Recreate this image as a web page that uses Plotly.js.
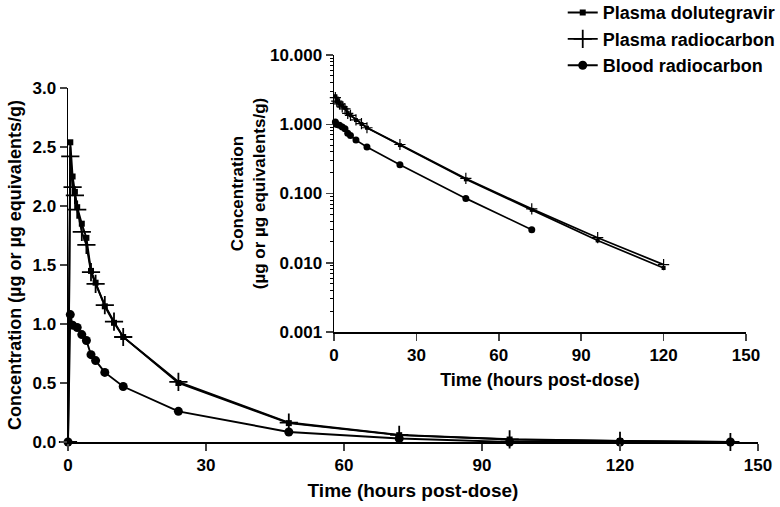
<!DOCTYPE html>
<html>
<head>
<meta charset="utf-8">
<script src="https://cdn.plot.ly/plotly-3.0.1.min.js"></script>
<style>html,body{margin:0;padding:0;background:#fff;}#chart{width:780px;height:507px;}</style>
</head>
<body>
<div id="chart"></div>
<script>
// Time points (hours post-dose)
var timePlasma = [0, 0.5, 1, 1.5, 2, 3, 4, 5, 6, 8, 10, 12, 24, 48, 72, 96, 120, 144];
var timeBlood  = [0, 0.5, 1, 2, 3, 4, 5, 6, 8, 12, 24, 48, 72, 96, 120, 144];
// Concentrations (µg or µg equivalents/g); 0 = below limit (not shown on log inset)
var plasmaDTG  = [0, 2.54, 2.25, 2.12, 1.99, 1.85, 1.73, 1.45, 1.35, 1.15, 1.01, 0.89, 0.50, 0.160, 0.058, 0.021, 0.0084, 0];
var plasmaRC   = [0, 2.42, 2.16, 2.09, 1.97, 1.78, 1.67, 1.44, 1.34, 1.16, 1.02, 0.89, 0.51, 0.165, 0.060, 0.023, 0.0094, 0];
var bloodRC    = [0, 1.08, 0.99, 0.97, 0.91, 0.86, 0.74, 0.69, 0.59, 0.47, 0.26, 0.085, 0.030, 0, 0, 0];
// Labels
var seriesNames = ["Plasma dolutegravir", "Plasma radiocarbon", "Blood radiocarbon"];
var xTickVals = [0, 30, 60, 90, 120, 150];
var logTickVals = [10, 1, 0.1, 0.01, 0.001];
var logTickText = ["10.000", "1.000", "0.100", "0.010", "0.001"];

function positiveOnly(arr) { return arr.map(function (v) { return v > 0 ? v : null; }); }

var FONT = "Arial, 'Liberation Sans', sans-serif";
var lineStyle = {color: "#000", width: 1.9};
var insetLine = {color: "#000", width: 1.7};

var traces = [
  {x: timePlasma, y: plasmaDTG, name: seriesNames[0], mode: "lines+markers", line: lineStyle,
   marker: {symbol: "square", size: 6, color: "#000"}, cliponaxis: false},
  {x: timePlasma, y: plasmaRC, name: seriesNames[1], mode: "lines+markers", line: lineStyle,
   marker: {symbol: "cross-thin", size: 13, color: "#000", line: {color: "#000", width: 1.8}}, cliponaxis: false},
  {x: timeBlood, y: bloodRC, name: seriesNames[2], mode: "lines+markers", line: lineStyle,
   marker: {symbol: "circle", size: 9, color: "#000"}, cliponaxis: false},
  // inset (log scale)
  {x: timePlasma, y: positiveOnly(plasmaDTG), xaxis: "x2", yaxis: "y2", showlegend: false, mode: "lines+markers",
   line: insetLine, marker: {symbol: "square", size: 4, color: "#000"}, cliponaxis: false},
  {x: timePlasma, y: positiveOnly(plasmaRC), xaxis: "x2", yaxis: "y2", showlegend: false, mode: "lines+markers",
   line: insetLine, marker: {symbol: "cross-thin", size: 8, color: "#000", line: {color: "#000", width: 1.2}}, cliponaxis: false},
  {x: timeBlood, y: positiveOnly(bloodRC), xaxis: "x2", yaxis: "y2", showlegend: false, mode: "lines+markers",
   line: insetLine, marker: {symbol: "circle", size: 7, color: "#000"}, cliponaxis: false}
];

var tickFont = {family: FONT, size: 17, color: "#000", weight: 700};
var titleFont = {family: FONT, size: 19, color: "#000", weight: 700};

var layout = {
  width: 780, height: 507,
  margin: {l: 68, r: 22, t: 55, b: 65, autoexpand: false},
  paper_bgcolor: "#fff", plot_bgcolor: "rgba(0,0,0,0)",
  font: {family: FONT, color: "#000"},
  showlegend: true,
  legend: {x: 0.717, y: 1.157, xanchor: "left", yanchor: "top", bgcolor: "rgba(0,0,0,0)",
           font: {family: FONT, size: 18, color: "#000", weight: 700}, tracegroupgap: 0, itemwidth: 30},
  xaxis: {domain: [0, 1], range: [0, 150], tickvals: xTickVals, ticks: "outside", ticklen: 7, tickwidth: 1.5,
          showline: true, linewidth: 1.5, linecolor: "#000", showgrid: false, zeroline: false, automargin: false,
          tickfont: tickFont, title: {text: "Time (hours post-dose)", font: titleFont, standoff: 10}},
  yaxis: {domain: [0, 354/387], range: [0, 3], dtick: 0.5, tickformat: ".1f", ticks: "outside", ticklen: 7, tickwidth: 1.5,
          showline: true, linewidth: 1.5, linecolor: "#000", showgrid: false, zeroline: false, automargin: false,
          tickfont: tickFont, title: {text: "Concentration (µg or µg equivalents/g)", font: {family: FONT, size: 18, color: "#000", weight: 700}, standoff: 6}},
  xaxis2: {domain: [266/690, 678/690], anchor: "y2", range: [0, 150], tickvals: xTickVals, ticks: "outside", ticklen: 7, tickwidth: 1.5,
           showline: true, linewidth: 1.5, linecolor: "#000", showgrid: false, zeroline: false, automargin: false,
           tickfont: tickFont, title: {text: "Time (hours post-dose)", font: {family: FONT, size: 18, color: "#000", weight: 700}, standoff: 9}},
  yaxis2: {domain: [110/387, 1], anchor: "x2", type: "log", range: [-3, 1], tickvals: logTickVals, ticktext: logTickText,
           ticks: "outside", ticklen: 7, tickwidth: 1.5, showline: true, linewidth: 1.5, linecolor: "#000", showgrid: false, zeroline: false, automargin: false,
           minor: {ticks: "outside", ticklen: 3, tickwidth: 1, tickcolor: "#000", dtick: "D1", showgrid: false},
           tickfont: tickFont, title: {text: "Concentration<br>(µg or µg equivalents/g)", font: {family: FONT, size: 17, color: "#000", weight: 700}, standoff: 0}}
};

Plotly.newPlot("chart", traces, layout, {displayModeBar: false, staticPlot: true});
</script>
</body>
</html>
